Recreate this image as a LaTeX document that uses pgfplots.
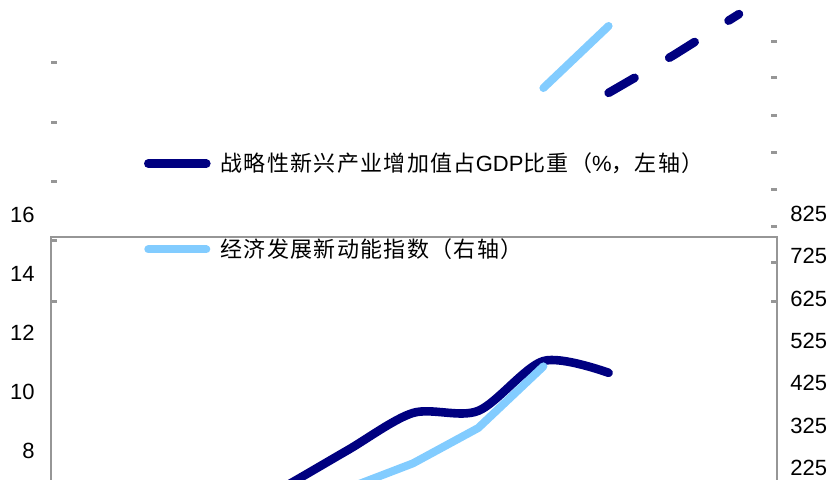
\documentclass[border=0pt]{standalone}
\usepackage{fontspec}
\setmainfont{Liberation Sans}
\newfontfamily\cjk[LetterSpace=6]{Noto Sans CJK SC}
\usepackage{pgfplots}
\pgfplotsset{compat=1.18}
\definecolor{navyc}{RGB}{0,0,128}
\definecolor{skyc}{RGB}{130,204,255}
\definecolor{framec}{RGB}{150,150,150}
\begin{document}
\begin{tikzpicture}
\useasboundingbox (0,0) rectangle (416.5pt,240pt);
\clip (0,0) rectangle (416.5pt,240pt);
\pgfplotsset{base/.style={scale only axis, width=363pt, clip=false, xmin=-0.552, xmax=10.583, anchor=south west}}
% frame
\begin{axis}[base, at={(25.5pt,-40pt)}, height=161.5pt, ymin=0, ymax=1,
  xtick=\empty, ytick=\empty, axis line style={framec, line width=1.2pt}]
\end{axis}
% left tick marks
\begin{axis}[base, at={(25.5pt,0pt)}, height=240pt, ymin=0, ymax=480, y dir=reverse,
  hide x axis, axis y line*=left, y axis line style={draw=none},
  ytick={63,123,182,241,301}, yticklabels={}, tick align=inside,
  major tick length=3pt, tick style={framec, line width=1.5pt}]
\end{axis}
% right tick marks
\begin{axis}[base, at={(25.5pt,0pt)}, height=240pt, ymin=0, ymax=480, y dir=reverse,
  hide x axis, axis y line*=right, y axis line style={draw=none},
  ytick={42,78,116,153,190,227,263,301}, yticklabels={}, tick align=inside,
  major tick length=3pt, tick style={framec, line width=1.5pt}]
\end{axis}
% left scale: share of GDP (%)
\begin{axis}[base, at={(25.5pt,0pt)}, height=240pt, ymin=7.017, ymax=23.288,
  hide x axis, axis y line*=left, y axis line style={draw=none},
  ytick={8,10,12,14,16}, major tick length=0pt,
  yticklabel style={font=\fontsize{11}{13}\selectfont, /pgf/number format/assume math mode=true,
    anchor=east, inner sep=0pt, xshift=-8pt},
  legend cell align=left,
  legend image code/.code={\draw[#1, line cap=round] (0pt,0pt) -- (29pt,0pt); \path (34pt,0pt);},
  legend style={draw=none, fill=none, inner sep=0pt, outer sep=0pt, at={(0.1281,0.5698)},
    anchor=west, row sep=32pt, nodes={inner sep=0pt}, font=\fontsize{11}{13}\selectfont}]
\addplot[navyc, line width=4.3pt, smooth, line cap=round] coordinates {
  (2,5.55) (3,6.75) (4,8.03) (5,9.29) (6,9.36) (7,11.05) (8,10.65)};
\addlegendentry{{\cjk 战略性新兴产业增加值占}GDP{\cjk 比重（}\%{\cjk ，左轴）}}
\addplot[navyc, line width=4.3pt, line cap=round, dash pattern=on 15pt off 20pt, forget plot] coordinates {
  (8,20.14) (9,21.42) (10,22.81)};
\addlegendimage{skyc, line width=4pt, line cap=round}
\addlegendentry{{\cjk 经济发展新动能指数（右轴）}}
\end{axis}
% right scale: new kinetic energy index
\begin{axis}[base, at={(25.5pt,0pt)}, height=240pt, ymin=196.65, ymax=1330.5,
  hide x axis, axis y line*=right, y axis line style={draw=none},
  ytick={225,325,425,525,625,725,825}, major tick length=0pt,
  yticklabel style={font=\fontsize{11}{13}\selectfont, /pgf/number format/assume math mode=true,
    anchor=west, inner sep=0pt, xshift=6.5pt}]
\addplot[skyc, line width=4pt, line cap=round, line join=round] coordinates {
  (3,125) (4,177) (5,236) (6,319.5) (7,465)};
\addplot[skyc, line width=4pt, line cap=round] coordinates {
  (7,1122.6) (8,1269.1)};
\end{axis}
\end{tikzpicture}
\end{document}
